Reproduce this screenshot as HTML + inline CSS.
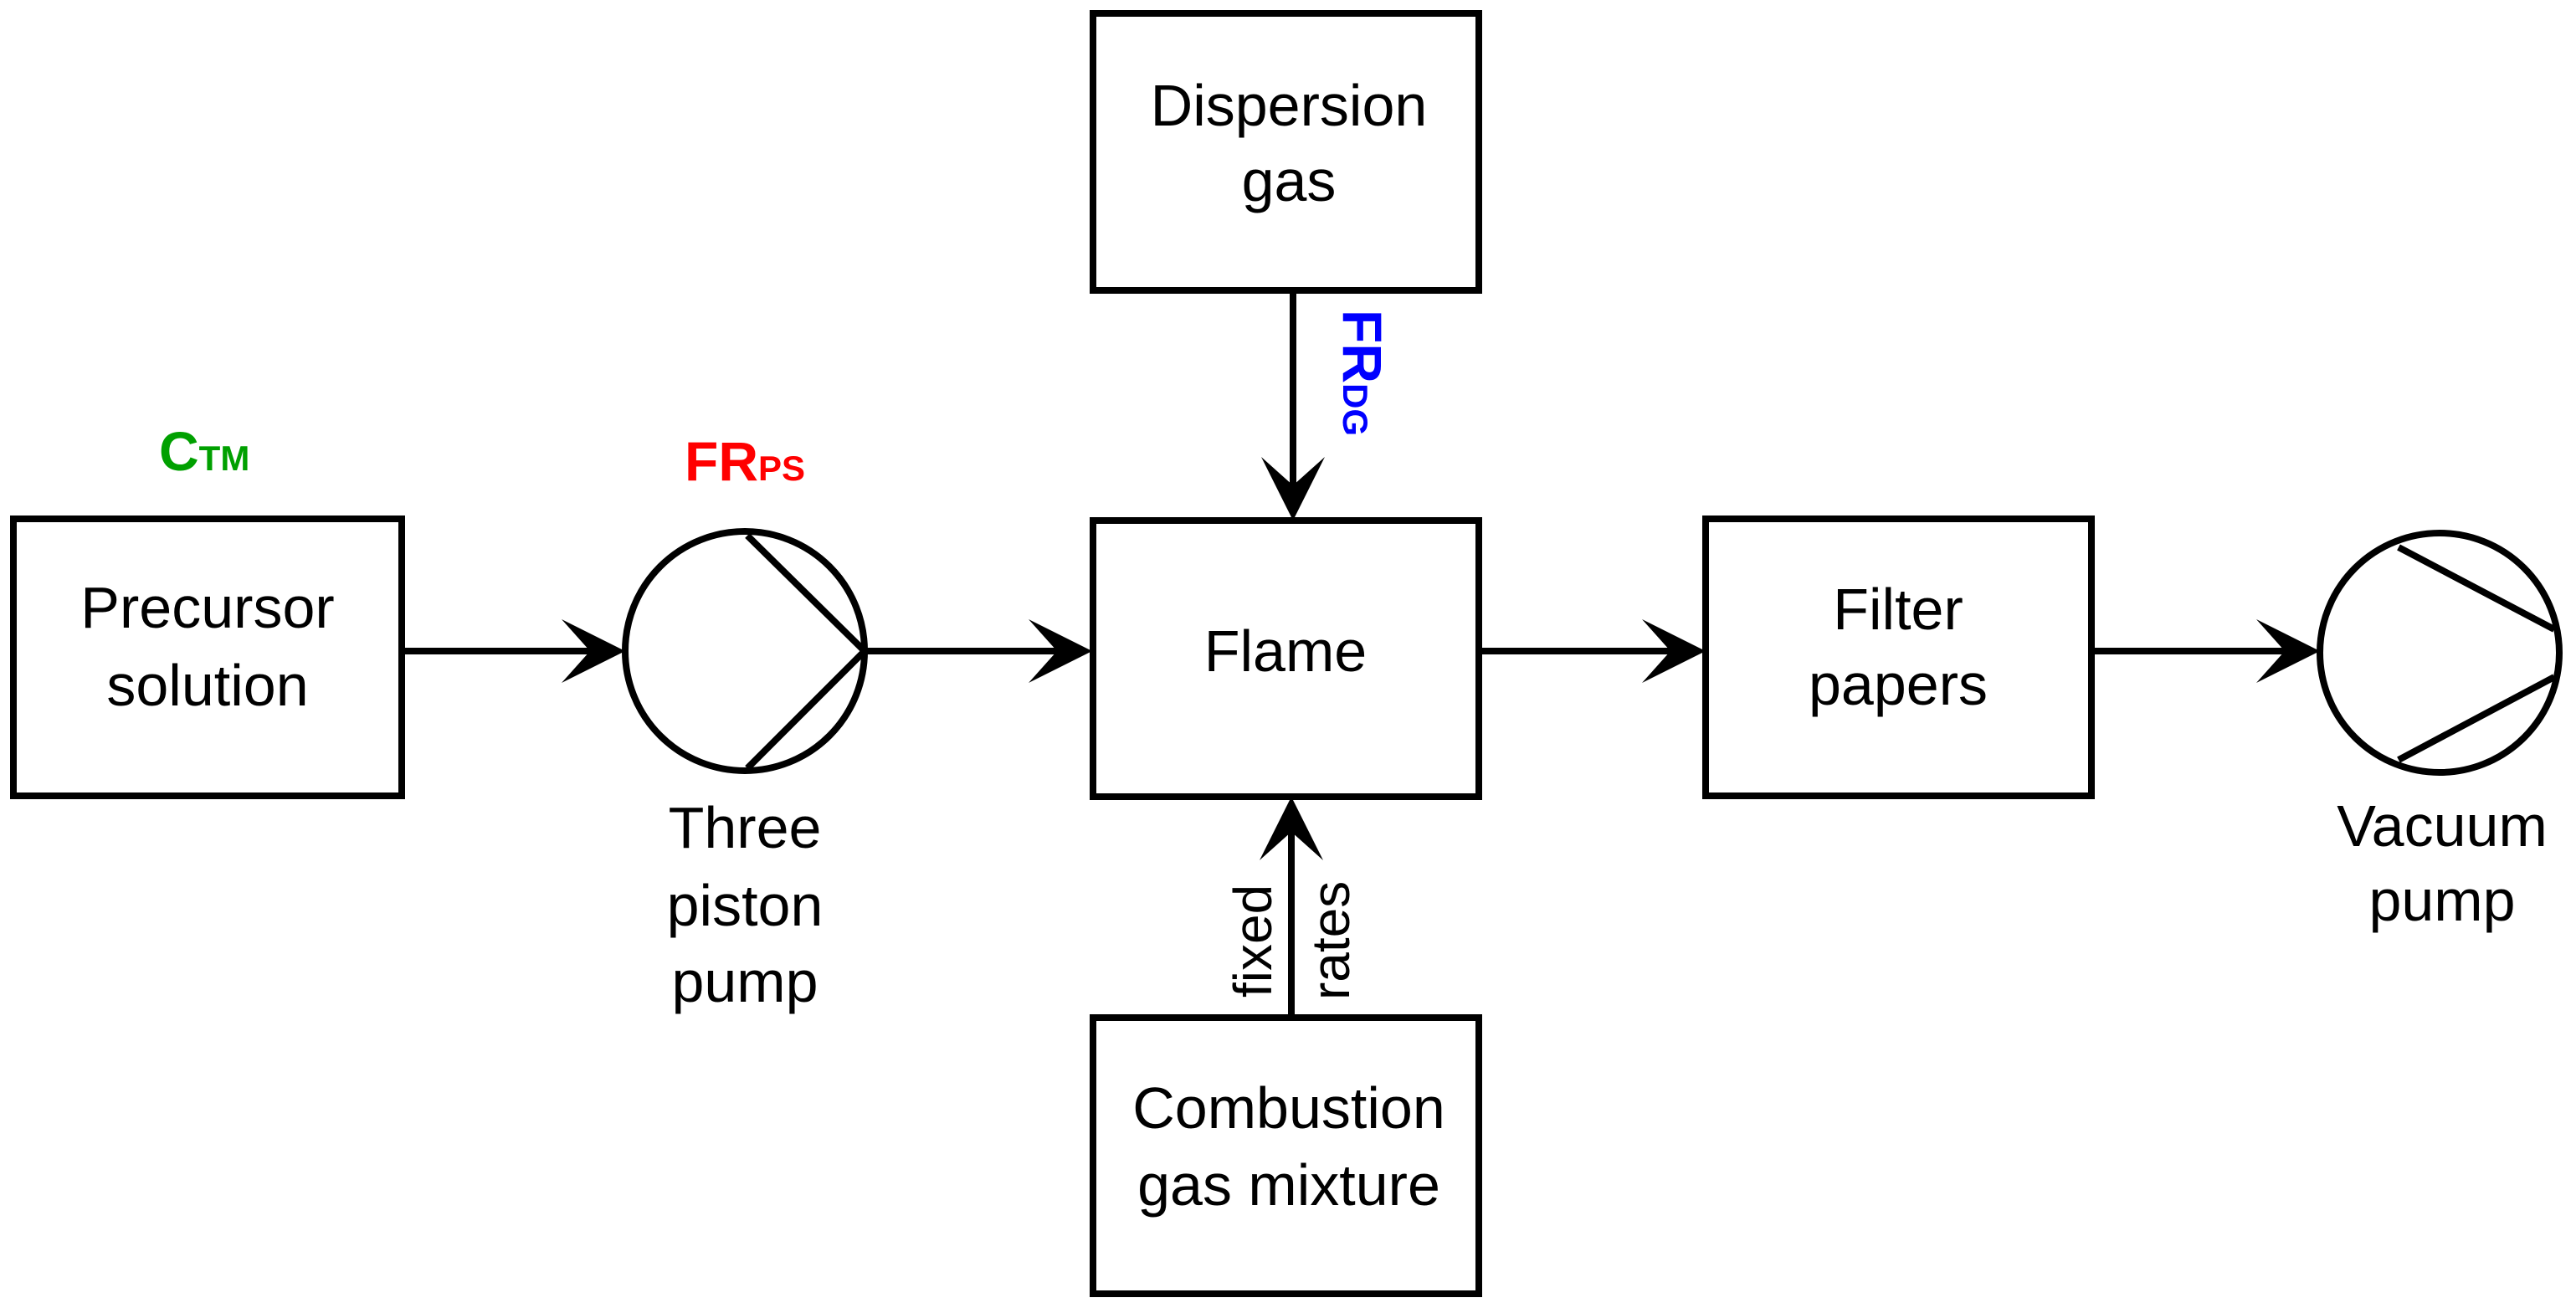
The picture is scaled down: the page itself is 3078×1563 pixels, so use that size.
<!DOCTYPE html>
<html><head><meta charset="utf-8"><style>html,body{margin:0;padding:0;background:#fff}svg{display:block}</style></head>
<body>
<svg width="3078" height="1563" viewBox="0 0 3078 1563" xmlns="http://www.w3.org/2000/svg" font-family="Liberation Sans, Arial, sans-serif">
<defs>
<path id="ah" d="M0,0 L-76,-38 L-42,0 L-76,38 Z" fill="#000"/>
</defs>
<g fill="none" stroke="#000" stroke-width="8">
<rect x="16" y="620" width="464" height="331"/>
<rect x="1306" y="16" width="461" height="331"/>
<rect x="1306" y="622" width="461" height="330"/>
<rect x="1306" y="1216" width="461" height="330"/>
<rect x="2038" y="620" width="461" height="331"/>
<circle cx="890" cy="778" r="143"/>
<polyline points="893,640 1033,778 893,918"/>
<circle cx="2915" cy="780" r="143"/>
<line x1="2866" y1="654" x2="3052" y2="752"/>
<line x1="2866" y1="908" x2="3052" y2="809"/>
<line x1="480" y1="778" x2="715" y2="778"/>
<line x1="1033" y1="778" x2="1270" y2="778"/>
<line x1="1767" y1="778" x2="2005" y2="778"/>
<line x1="2499" y1="778" x2="2740" y2="778"/>
<line x1="1545" y1="347" x2="1545" y2="590"/>
<line x1="1543" y1="1216" x2="1543" y2="985"/>
</g>
<use href="#ah" transform="translate(747,778)"/>
<use href="#ah" transform="translate(1305,778)"/>
<use href="#ah" transform="translate(2038,778)"/>
<use href="#ah" transform="translate(2772,778)"/>
<use href="#ah" transform="translate(1545,622) rotate(90)"/>
<use href="#ah" transform="translate(1543,952) rotate(-90)"/>
<g font-size="70" fill="#000" text-anchor="middle">
<text x="248" y="750">Precursor</text>
<text x="248" y="843">solution</text>
<text x="890" y="1013">Three</text>
<text x="890" y="1106">piston</text>
<text x="890" y="1197">pump</text>
<text x="1540" y="150">Dispersion</text>
<text x="1540" y="240">gas</text>
<text x="1536" y="802">Flame</text>
<text x="1540" y="1348">Combustion</text>
<text x="1540" y="1440">gas mixture</text>
<text x="2268" y="752">Filter</text>
<text x="2268" y="842">papers</text>
<text x="2918" y="1011">Vacuum</text>
<text x="2918" y="1100">pump</text>
</g>
<text x="190" y="562" font-size="66" font-weight="bold" fill="#00a000">C<tspan font-size="42">TM</tspan></text>
<text x="818" y="574" font-size="66" font-weight="bold" fill="#ff0000">FR<tspan font-size="42">PS</tspan></text>
<text transform="translate(1605,370) rotate(90)" font-size="66" font-weight="bold" fill="#0000ff">FR<tspan font-size="42">DG</tspan></text>
<text transform="translate(1519,1192) rotate(-90)" font-size="64" fill="#000">fixed</text>
<text transform="translate(1612,1195) rotate(-90)" font-size="64" fill="#000">rates</text>
</svg>
</body></html>
